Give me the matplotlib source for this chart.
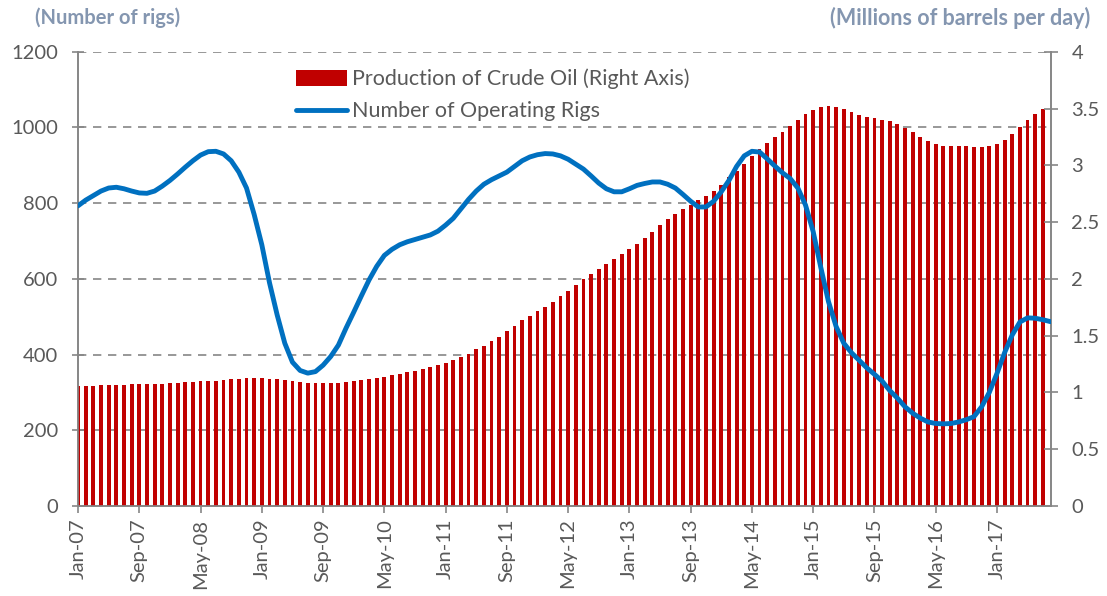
import matplotlib.pyplot as plt
import numpy as np
import pandas as pd

# monthly, Jan-07 .. Aug-17 (production ends Jul-17)
months = pd.date_range('2007-01-01', periods=128, freq='MS')
month_labels = months.strftime('%b-%y')

# Production of crude oil, millions of barrels per day (right axis)
production = [
    1.06, 1.06, 1.06, 1.065, 1.065, 1.065, 1.065, 1.07, 1.07, 1.07,
    1.075, 1.075, 1.08, 1.085, 1.09, 1.095, 1.10, 1.10, 1.105, 1.11,
    1.115, 1.12, 1.125, 1.125, 1.125, 1.12, 1.115, 1.11, 1.10, 1.09,
    1.085, 1.08, 1.08, 1.08, 1.085, 1.09, 1.098, 1.11, 1.12, 1.13,
    1.14, 1.15, 1.163, 1.178, 1.192, 1.21, 1.225, 1.242, 1.26, 1.283,
    1.31, 1.342, 1.38, 1.41, 1.45, 1.49, 1.54, 1.585, 1.636, 1.677,
    1.715, 1.753, 1.797, 1.847, 1.895, 1.948, 1.997, 2.044, 2.088, 2.129,
    2.173, 2.22, 2.26, 2.31, 2.358, 2.41, 2.47, 2.53, 2.575, 2.617,
    2.65, 2.696, 2.728, 2.777, 2.829, 2.896, 2.95, 3.013, 3.078, 3.143,
    3.20, 3.25, 3.295, 3.348, 3.398, 3.448, 3.486, 3.51, 3.518, 3.512,
    3.495, 3.468, 3.445, 3.427, 3.416, 3.40, 3.386, 3.363, 3.328, 3.29,
    3.248, 3.21, 3.187, 3.172, 3.169, 3.169, 3.169, 3.163, 3.16, 3.166,
    3.187, 3.225, 3.278, 3.34, 3.398, 3.45, 3.495,
]

# Number of operating rigs (left axis)
rigs = [
    793, 808, 820, 832, 840, 842, 838, 832, 827, 826,
    832, 845, 860, 877, 895, 912, 927, 936, 937, 930,
    912, 882, 840, 770, 690, 590, 505, 430, 380, 358,
    351, 355, 372, 395, 425, 470, 512, 555, 597, 633,
    662, 678, 690, 698, 704, 710, 716, 726, 742, 760,
    785, 810, 832, 850, 862, 872, 882, 897, 912, 922,
    928, 931, 930, 925, 916, 903, 890, 872, 853, 838,
    830, 830, 838, 847, 852, 856, 856, 850, 840, 823,
    805, 790, 790, 805, 830, 860, 897, 925, 937, 935,
    917, 898, 880, 865, 840, 795, 725, 630, 540, 474,
    430, 405, 385, 365, 348, 330, 305, 285, 262, 245,
    232, 222, 218, 217, 218, 222, 228, 236, 262, 300,
    350, 405, 452, 486, 497, 496, 492, 487,
]

GRAY = '#868686'
TXT = '#595959'
plt.rcParams['font.family'] = ['Lato', 'DejaVu Sans']

fig = plt.figure(figsize=(11.07, 5.96), dpi=100)
ax = fig.add_axes([0.0705, 0.151, 0.8785, 0.7622])
ax2 = ax.twinx()
ax3 = ax.twinx()

x_prod = np.arange(len(production))
x_rigs = np.arange(len(rigs))

bars = ax2.bar(x_prod, production, width=0.5, color='#C00000', linewidth=0,
               label='Production of Crude Oil (Right Axis)')
line, = ax3.plot(x_rigs, rigs, color='#0070C0', linewidth=3.5,
                 solid_capstyle='round', label='Number of Operating Rigs')

ax.set_xlim(0, len(rigs) - 1)
ax.set_ylim(0, 1200)
ax2.set_ylim(0, 4)
ax3.set_ylim(0, 1200)

ax.set_yticks(range(0, 1201, 200))
ax2.set_yticks([0, 0.5, 1, 1.5, 2, 2.5, 3, 3.5, 4])
ax2.set_yticklabels(['0', '0.5', '1', '1.5', '2', '2.5', '3', '3.5', '4'])
ax3.set_yticks([])

ax.set_xticks(x_rigs[::8])
ax.set_xticklabels(month_labels[::8], rotation=90)

ax.grid(axis='y', color=GRAY, linestyle=(0, (5, 4)), linewidth=1.2)
ax.grid(axis='x', visible=False)
ax.set_axisbelow(True)

for a in (ax, ax2, ax3):
    a.spines['top'].set_visible(False)
    for s in ('left', 'right', 'bottom'):
        a.spines[s].set_color(GRAY)
        a.spines[s].set_linewidth(1.2)
ax3.spines['left'].set_visible(False)
ax3.spines['right'].set_visible(False)
ax3.spines['bottom'].set_visible(False)

ax.tick_params(axis='y', direction='inout', length=9, width=1.2, color=GRAY,
               labelsize=14.5, labelcolor=TXT, pad=10)
ax2.tick_params(axis='y', direction='inout', length=10, width=1.2, color=GRAY,
                labelsize=14.5, labelcolor=TXT, pad=10)
ax.tick_params(axis='x', direction='out', length=5, width=1.2, color=GRAY,
               labelsize=14.5, labelcolor=TXT, pad=4)

fig.text(0.032, 0.97, '(Number of rigs)', fontsize=14.5, fontweight='bold',
         color='#8496B0', ha='left', va='center')
fig.text(0.985, 0.97, '(Millions of barrels per day)', fontsize=15.5,
         fontweight='bold', color='#8496B0', ha='right', va='center')

fig.legend([bars, line], [bars.get_label(), line.get_label()],
           loc='upper left', bbox_to_anchor=(0.2497, 0.917), frameon=False,
           fontsize=15.5, labelcolor=TXT, handlelength=2.4, handleheight=0.75,
           handletextpad=0.2, labelspacing=0.55)

fig.savefig('out.png', dpi=100)
